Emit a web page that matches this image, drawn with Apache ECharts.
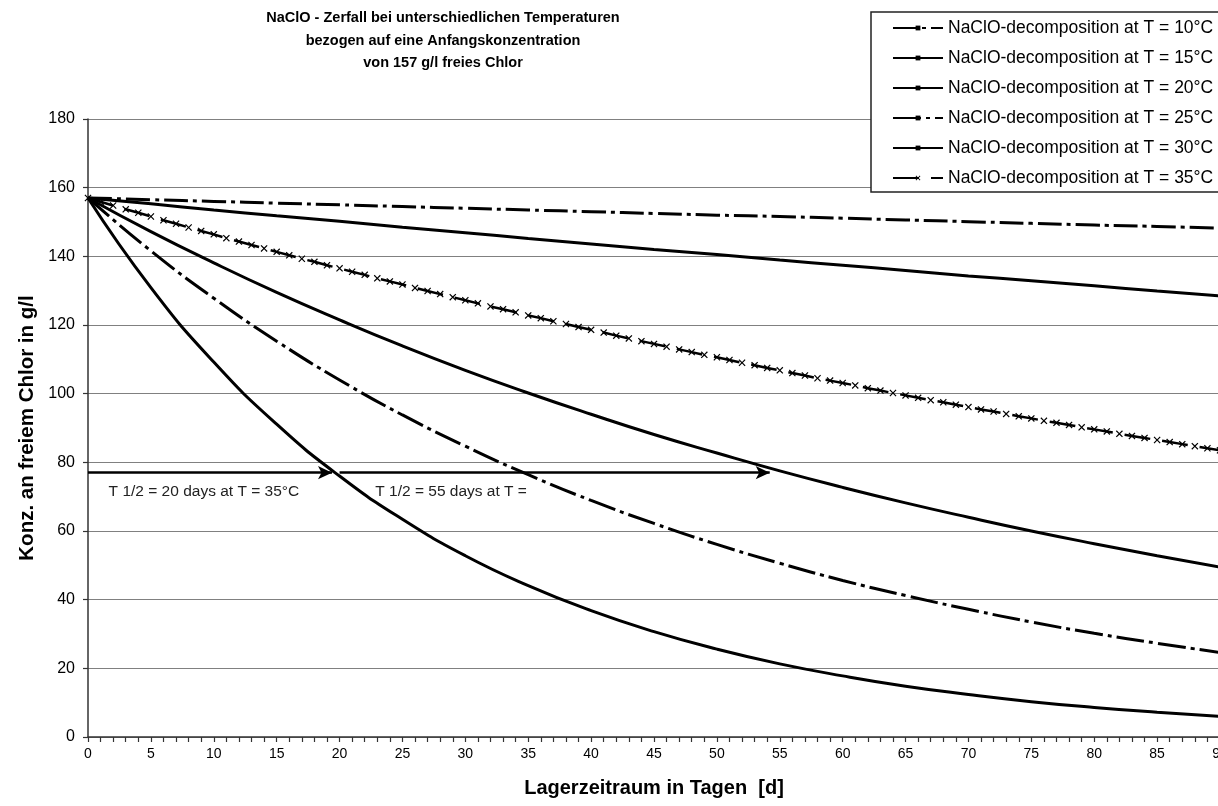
<!DOCTYPE html>
<html>
<head>
<meta charset="utf-8">
<script src="https://cdn.jsdelivr.net/npm/echarts@6/dist/echarts.min.js"></script>
<style>
html,body{margin:0;padding:0;background:#fff;}
#chart{width:1218px;height:806px;}
</style>
</head>
<body>
<div id="chart"></div>
<script>
// ---- data ----
const titleLines = ['NaClO - Zerfall bei unterschiedlichen Temperaturen', 'bezogen auf eine Anfangskonzentration', 'von 157 g/l freies Chlor'];
const xAxisName = 'Lagerzeitraum in Tagen  [d]';
const yAxisName = 'Konz. an freiem Chlor in g/l';

const seriesNames = [
  'NaClO-decomposition at T = 10°C',
  'NaClO-decomposition at T = 15°C',
  'NaClO-decomposition at T = 20°C',
  'NaClO-decomposition at T = 25°C',
  'NaClO-decomposition at T = 30°C',
  'NaClO-decomposition at T = 35°C'
];

// days (every 5 days)
const days5 = [0,5,10,15,20,25,30,35,40,45,50,55,60,65,70,75,80,85,90];
// every day (for the series drawn with x markers)
const days1 = [0,1,2,3,4,5,6,7,8,9,10,11,12,13,14,15,16,17,18,19,20,21,22,23,24,25,26,27,28,29,30,
  31,32,33,34,35,36,37,38,39,40,41,42,43,44,45,46,47,48,49,50,51,52,53,54,55,56,57,58,59,60,
  61,62,63,64,65,66,67,68,69,70,71,72,73,74,75,76,77,78,79,80,81,82,83,84,85,86,87,88,89,90];

const t10 = [157.0,156.5,156.0,155.5,155.0,154.5,154.0,153.5,153.0,152.5,152.0,151.6,151.1,150.6,150.1,149.6,149.1,148.7,148.2];
const t15 = [157.0,155.3,153.5,151.8,150.2,148.5,146.9,145.2,143.6,142.0,140.5,138.9,137.4,135.9,134.3,132.9,131.4,129.9,128.5];
const t20 = [157.0,147.2,138.1,129.5,121.5,113.9,106.8,100.2,94.0,88.1,82.7,77.5,72.7,68.2,64.0,60.0,56.3,52.8,49.5];
const t25 = [157.0,141.6,127.8,115.3,104.0,93.8,84.7,76.4,68.9,62.2,56.1,50.6,45.6,41.2,37.2,33.5,30.2,27.3,24.6];
const t30 = [157.0,130.9,109.2,91.1,76.0,63.4,52.8,44.1,36.8,30.7,25.6,21.3,17.8,14.8,12.4,10.3,8.6,7.2,6.0];
const t35 = [157.0,155.9,154.8,153.7,152.7,151.6,150.5,149.5,148.4,147.4,146.4,145.3,144.3,143.3,142.3,141.3,
  140.3,139.3,138.4,137.4,136.5,135.5,134.6,133.6,132.7,131.8,130.8,129.9,129.0,128.1,127.2,126.3,125.4,
  124.6,123.7,122.8,122.0,121.1,120.3,119.4,118.6,117.8,116.9,116.1,115.3,114.5,113.7,112.9,112.1,111.3,
  110.6,109.8,109.0,108.3,107.5,106.8,106.0,105.3,104.5,103.8,103.1,102.4,101.6,100.9,100.2,99.5,98.8,
  98.1,97.5,96.8,96.1,95.4,94.8,94.1,93.4,92.8,92.1,91.5,90.9,90.2,89.6,89.0,88.3,87.7,87.1,86.5,85.9,
  85.3,84.7,84.1,83.5];

// half-life annotations (arrows in data coordinates)
const arrowLevel = 77;
const arrowFrom = [0, 20];
const arrowTo = [19.4, 54.2];
const noteTexts = ['T 1/2 = 20 days at T = 35°C', 'T 1/2 = 55 days at T ='];
const notePos = [[1.6, 71.3], [22.8, 71.3]];

// ---- chart ----
const FONT = 'Liberation Sans, Arial, sans-serif';
const XPATH = 'path://M0,1.2L1.2,0L5,3.8L8.8,0L10,1.2L6.2,5L10,8.8L8.8,10L5,6.2L1.2,10L0,8.8L3.8,5Z';

function pairs(xs, ys){ return xs.map((x,i)=>[x, ys[i]]); }

const chart = echarts.init(document.getElementById('chart'), null, {renderer:'canvas'});

function lineSeries(name, xs, ys, dash, extra){
  return Object.assign({
    name: name,
    type: 'line',
    data: pairs(xs, ys),
    smooth: true,
    symbol: 'rect',
    symbolSize: 4,
    showSymbol: false,
    color: '#000',
    itemStyle: {color: '#000'},
    lineStyle: {color: '#000', width: 3, type: dash},
    emphasis: {disabled: true},
    silent: true,
    z: 3
  }, extra || {});
}

const option = {
  animation: false,
  backgroundColor: '#fff',
  textStyle: {fontFamily: FONT},
  graphic: [{
    type: 'text',
    x: 443, y: 7,
    style: {
      text: titleLines.join('\n'),
      align: 'center', verticalAlign: 'top',
      font: 'bold 14.5px ' + FONT,
      lineHeight: 22.5,
      fill: '#000'
    }
  }],
  legend: {
    orient: 'vertical',
    left: 871, top: 12,
    padding: [6, 30, 4, 21],
    itemGap: 10,
    itemWidth: 50,
    itemHeight: 6,
    borderColor: '#222',
    borderWidth: 1.5,
    backgroundColor: '#fff',
    selectedMode: false,
    textStyle: {fontSize: 17.5, lineHeight: 20, color: '#000', fontFamily: FONT},
    data: seriesNames.slice(),
    z: 10
  },
  grid: {left: 88, right: -2, top: 119, bottom: 69, containLabel: false, outerBoundsMode: 'none'},
  xAxis: {
    type: 'value', min: 0, max: 90, interval: 5,
    name: xAxisName, nameLocation: 'middle', nameGap: 41,
    nameTextStyle: {fontSize: 20, fontWeight: 'bold', color: '#000', fontFamily: FONT},
    axisLine: {show: true, lineStyle: {color: '#333', width: 1.5}},
    axisTick: {show: true, length: 5, inside: false, lineStyle: {color: '#333', width: 1.2}},
    minorTick: {show: true, splitNumber: 5, length: 5, lineStyle: {color: '#333', width: 1.2}},
    axisLabel: {fontSize: 14, color: '#000', margin: 10, fontFamily: FONT},
    splitLine: {show: false}
  },
  yAxis: {
    type: 'value', min: 0, max: 180, interval: 20,
    name: yAxisName, nameLocation: 'middle', nameGap: 50,
    nameTextStyle: {fontSize: 20.5, fontWeight: 'bold', color: '#000', fontFamily: FONT},
    axisLine: {show: true, lineStyle: {color: '#333', width: 1.5}},
    axisTick: {show: true, length: 5, inside: false, lineStyle: {color: '#333', width: 1.2}},
    axisLabel: {fontSize: 16, color: '#000', margin: 13, fontFamily: FONT},
    splitLine: {show: true, lineStyle: {color: '#808080', width: 1.2}}
  },
  series: [
    lineSeries(seriesNames[0], days5, t10, [24, 5, 4, 5]),
    lineSeries(seriesNames[1], days5, t15, 'solid'),
    lineSeries(seriesNames[2], days5, t20, 'solid'),
    lineSeries(seriesNames[3], days5, t25, [28, 5, 4, 5]),
    lineSeries(seriesNames[4], days5, t30, 'solid', {
      markLine: {
        silent: true,
        symbol: ['none', 'arrow'],
        symbolSize: [10, 14],
        label: {show: false},
        lineStyle: {color: '#000', width: 2.5, type: 'solid'},
        data: arrowFrom.map((x0, i) => [
          {coord: [x0, arrowLevel]},
          {coord: [arrowTo[i], arrowLevel]}
        ])
      },
      markPoint: {
        silent: true,
        symbol: 'rect',
        symbolSize: 1,
        itemStyle: {color: 'rgba(0,0,0,0)'},
        label: {
          show: true, position: 'right', distance: 0,
          color: '#222', fontSize: 15.5,
          fontFamily: 'Liberation Sans Narrow, Arial Narrow, Liberation Sans, sans-serif'
        },
        data: noteTexts.map((t, i) => ({coord: notePos[i], value: t, label: {formatter: t}}))
      }
    }),
    lineSeries(seriesNames[5], days1, t35, [26, 12], {
      smooth: false,
      symbol: XPATH,
      symbolSize: 7,
      showSymbol: true,
      lineStyle: {color: '#000', width: 2.5, type: [26, 12]}
    })
  ]
};

chart.setOption(option);
</script>
</body>
</html>
